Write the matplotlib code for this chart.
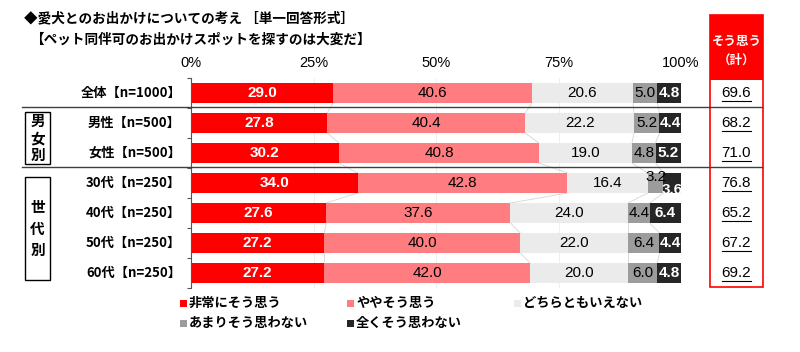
import matplotlib
matplotlib.use("Agg")
import matplotlib.pyplot as plt
from matplotlib.patches import Rectangle
from matplotlib.lines import Line2D
import numpy as np

plt.rcParams['font.family'] = ['Noto Sans CJK JP', 'DejaVu Sans']
plt.rcParams['font.weight'] = 'bold'
NUM_FONT = ['Liberation Sans', 'DejaVu Sans']

# data
row_labels = ["全体【n=1000】", "男性【n=500】", "女性【n=500】",
              "30代【n=250】", "40代【n=250】", "50代【n=250】", "60代【n=250】"]
very_agree = [29.0, 27.8, 30.2, 34.0, 27.6, 27.2, 27.2]
some_agree = [40.6, 40.4, 40.8, 42.8, 37.6, 40.0, 42.0]
neutral = [20.6, 22.2, 19.0, 16.4, 24.0, 22.0, 20.0]
little_disagree = [5.0, 5.2, 4.8, 3.2, 4.4, 6.4, 6.0]
disagree = [4.8, 4.4, 5.2, 3.6, 6.4, 4.4, 4.8]
series_names = ["非常にそう思う", "ややそう思う", "どちらともいえない", "あまりそう思わない", "全くそう思わない"]
colors = ["#FF0000", "#FF7C80", "#EBEBEB", "#9C9C9C", "#262626"]
text_colors = ["white", "black", "black", "black", "white"]
xticks = [0, 25, 50, 75, 100]

W, H = 800, 352


def fx(x):
    return x / W


def fy(y):
    return 1 - y / H


fig = plt.figure(figsize=(8, 3.52), dpi=100)
ax = fig.add_axes([fx(191), fy(288), fx(681) - fx(191), (288 - 78) / H])

data = np.array([very_agree, some_agree, neutral, little_disagree, disagree])
n = len(row_labels)
y = np.arange(n)
bh = 0.667

for xv in xticks[1:]:
    ax.axvline(xv, color="#ececec", lw=0.6, zorder=0)

left = np.zeros(n)
bounds = [left.copy()]
for i in range(5):
    ax.barh(y, data[i], left=left, height=bh, color=colors[i], zorder=2)
    for j in range(n):
        v = data[i][j]
        cx = left[j] + v / 2
        cy = y[j]
        if j == 3 and i == 3:
            cy -= 0.2
        if j == 3 and i == 4:
            cy += 0.22
        ax.text(cx, cy, f"{v:.1f}", ha="center", va="center", fontsize=11,
                family=NUM_FONT, color=text_colors[i],
                fontweight="normal" if i in (1, 2, 3) else "bold", zorder=4)
    left = left + data[i]
    bounds.append(left.copy())

# series connector lines
for b in bounds[1:-1]:
    for j in range(n - 1):
        ax.plot([b[j], b[j + 1]], [j + bh / 2, j + 1 - bh / 2], color="#d5d5d5", lw=0.6, zorder=1)

ax.set_xlim(0, 100)
ax.set_ylim(n - 0.5, -0.5)
ax.set_xticks(xticks)
ax.set_xticklabels([f"{v}%" for v in xticks], fontsize=10.5, fontweight="normal", family=NUM_FONT)
ax.xaxis.tick_top()
ax.tick_params(axis="x", length=0, pad=6)
ax.set_yticks(np.arange(-0.5, n, 1.0))
ax.set_yticklabels([])
ax.tick_params(axis="y", length=3, color="#555555", direction="out")
for s in ["top", "right", "bottom"]:
    ax.spines[s].set_visible(False)
ax.spines["left"].set_color("#555555")
ax.spines["left"].set_linewidth(0.8)

# row labels
for j, lab in enumerate(row_labels):
    fig.text(fx(181), fy(93 + 30 * j), lab, ha="right", va="center", fontsize=9.5)

# title
fig.text(fx(24), fy(18), "◆愛犬とのお出かけについての考え ［単一回答形式］", ha="left", va="center", fontsize=9.8)
fig.text(fx(30), fy(40), "【ペット同伴可のお出かけスポットを探すのは大変だ】", ha="left", va="center", fontsize=9.8)

# separators
for yy in (107, 167):
    fig.add_artist(Line2D([fx(22), fx(762)], [fy(yy), fy(yy)], color="#404040", lw=1.0))

# group boxes
for (y0, y1, txt, ls) in [(112, 164, "男\n女\n別", 1.1), (177, 280, "世\n代\n別", 1.45)]:
    fig.add_artist(Rectangle((fx(25), fy(y1)), fx(50) - fx(25), (y1 - y0) / H,
                             fill=False, ec="black", lw=1.0))
    fig.text(fx(37.5), fy((y0 + y1) / 2), txt, ha="center", va="center", fontsize=10.5, linespacing=ls)

# total column
fig.add_artist(Rectangle((fx(710), fy(80)), fx(763) - fx(710), (80 - 15) / H,
                         fc="#FF0000", ec="none"))
fig.add_artist(Rectangle((fx(710), fy(287)), fx(763) - fx(710), (287 - 15) / H,
                         fill=False, ec="#FF0000", lw=1.2))
fig.text(fx(736.5), fy(41), "そう思う", ha="center", va="center", fontsize=9, color="white")
fig.text(fx(736.5), fy(60), "（計）", ha="center", va="center", fontsize=9, color="white")
totals = data[0] + data[1]
for j, t in enumerate(totals):
    yy = 93 + 30 * j
    fig.text(fx(736.5), fy(yy), f"{t:.1f}", ha="center", va="center", fontsize=11,
             fontweight="normal", family=NUM_FONT)
    fig.add_artist(Line2D([fx(722), fx(751)], [fy(yy + 8), fy(yy + 8)], color="black", lw=0.8))

# legend
leg_pos = [(183, 303), (350, 303), (517, 303), (183, 323), (350, 323)]
for (lx, ly), name, c in zip(leg_pos, series_names, colors):
    fig.add_artist(Rectangle((fx(lx - 3), fy(ly + 3.5)), 7 / W, 7 / H, fc=c, ec="none"))
    fig.text(fx(lx + 6), fy(ly), name, ha="left", va="center", fontsize=9.5)

fig.savefig("out.png", dpi=100)
